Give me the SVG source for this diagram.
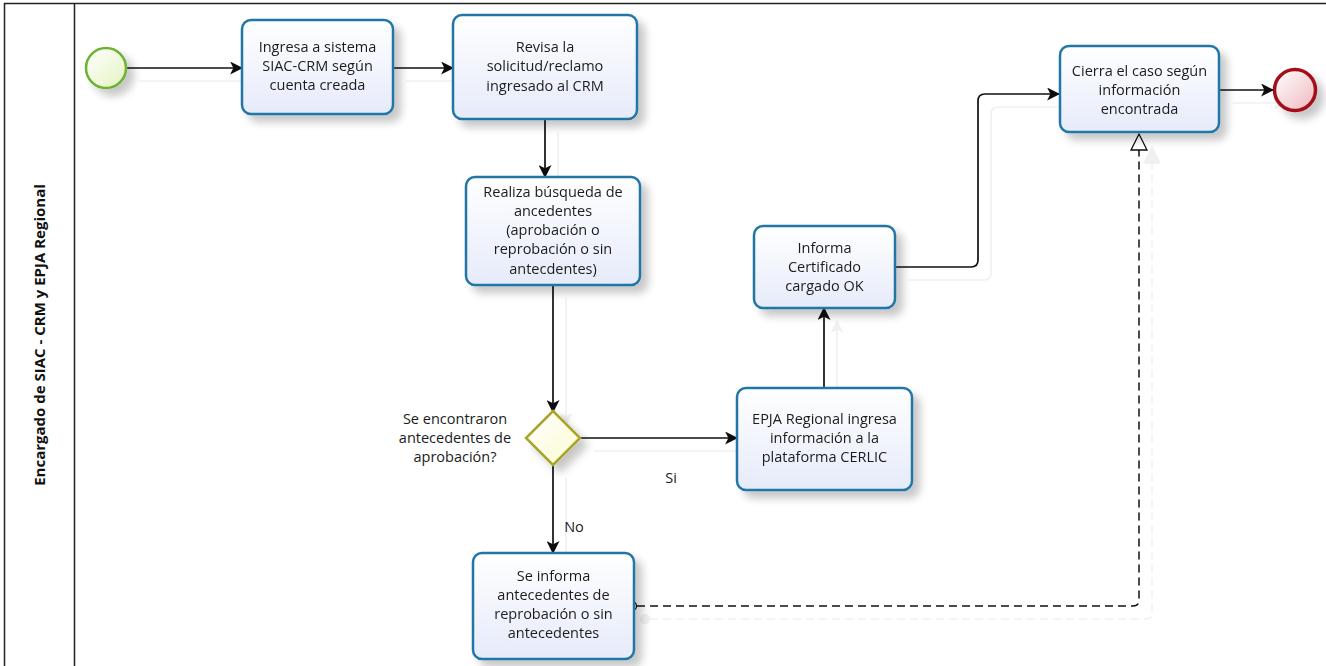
<svg xmlns="http://www.w3.org/2000/svg" width="1326" height="666" viewBox="0 0 1326 666">
<style>
.task{fill:url(#gTask);stroke:#2476a6;stroke-width:2.5}
.lbl{font-family:"Open Sans","Noto Sans",sans-serif;font-size:14.5px;fill:#1c1c1c;text-anchor:middle}
.flow{fill:none;stroke:#111;stroke-width:1.7}
.assoc{fill:none;stroke:#111;stroke-width:1.5;stroke-dasharray:8 5}
</style>
<defs>
<linearGradient id="gTask" x1="0" y1="0" x2="0" y2="1"><stop offset="0" stop-color="#ffffff"/><stop offset="1" stop-color="#e6ebfa"/></linearGradient>
<linearGradient id="gStart" x1="0" y1="0" x2="1" y2="1"><stop offset="0" stop-color="#ffffff"/><stop offset="1" stop-color="#e4f3c0"/></linearGradient>
<linearGradient id="gEnd" x1="0" y1="0" x2="1" y2="1"><stop offset="0" stop-color="#ffffff"/><stop offset="1" stop-color="#efb8bd"/></linearGradient>
<linearGradient id="gGate" x1="0" y1="0" x2="1" y2="1"><stop offset="0" stop-color="#ffffff"/><stop offset="1" stop-color="#fbfbd0"/></linearGradient>
<filter id="sh" x="-20%" y="-20%" width="160%" height="160%">
<feGaussianBlur in="SourceAlpha" stdDeviation="4"/><feOffset dx="7" dy="7" result="b"/>
<feComponentTransfer><feFuncA type="linear" slope="0.22"/></feComponentTransfer>
<feMerge><feMergeNode/><feMergeNode in="SourceGraphic"/></feMerge>
</filter>
<filter id="csh" x="-10%" y="-10%" width="130%" height="130%">
<feOffset in="SourceAlpha" dx="13" dy="13"/>
<feComponentTransfer><feFuncA type="linear" slope="0.06"/></feComponentTransfer>
<feMerge><feMergeNode/><feMergeNode in="SourceGraphic"/></feMerge>
</filter>
<marker id="arr" viewBox="0 0 12 12" refX="11" refY="6" markerWidth="13" markerHeight="13" markerUnits="userSpaceOnUse" orient="auto">
<path d="M0,0 L12,6 L0,12 L3,6 Z" fill="#111"/>
</marker>
<marker id="open" viewBox="0 0 18 20" refX="17" refY="10" markerWidth="18" markerHeight="20" markerUnits="userSpaceOnUse" orient="auto">
<path d="M1,2 L17,10 L1,18 Z" fill="#fff" stroke="#111" stroke-width="1.3"/>
</marker>
</defs>
<rect x="0" y="0" width="1326" height="666" fill="#fff"/>
<g id="pool">
<rect x="4.5" y="3.5" width="1340" height="700" fill="none" stroke="#222" stroke-width="1.5"/>
<line x1="74.5" y1="3.5" x2="74.5" y2="700" stroke="#222" stroke-width="1.5"/>
<text transform="translate(45,335) rotate(-90)" style="font-family:'Open Sans','Noto Sans',sans-serif;font-size:15px;font-weight:bold;fill:#111;text-anchor:middle">Encargado de SIAC - CRM y EPJA Regional</text>
</g>
<g id="connectors">
<g filter="url(#csh)">
<line class="flow" x1="126" y1="68" x2="242" y2="68" marker-end="url(#arr)"/>
<line class="flow" x1="393" y1="68" x2="453" y2="68" marker-end="url(#arr)"/>
<line class="flow" x1="545" y1="119" x2="545" y2="177" marker-end="url(#arr)"/>
<line class="flow" x1="553" y1="285" x2="553" y2="412" marker-end="url(#arr)"/>
<line class="flow" x1="581" y1="438" x2="737" y2="438" marker-end="url(#arr)"/>
<line class="flow" x1="553" y1="465" x2="553" y2="553" marker-end="url(#arr)"/>
<line class="flow" x1="824" y1="388" x2="824" y2="308" marker-end="url(#arr)"/>
<path class="flow" d="M895,267 H971 Q978,267 978,260 V101 Q978,94 985,94 H1059" marker-end="url(#arr)"/>
<line class="flow" x1="1220" y1="90" x2="1273" y2="90" marker-end="url(#arr)"/>
<path class="assoc" d="M637,606 H1133 Q1139,606 1139,600 V134" marker-end="url(#open)"/>
<circle cx="632" cy="606" r="4.5" fill="#fff" stroke="#111" stroke-width="1.3"/>
</g>
<text class="lbl" x="671" y="483">Si</text>
<text class="lbl" x="574" y="532">No</text>
</g>
<g id="start" filter="url(#sh)"><circle cx="106" cy="68" r="20" fill="url(#gStart)" stroke="#6db230" stroke-width="2.5"/></g>
<g id="task1" filter="url(#sh)"><rect class="task" x="242" y="20" width="151" height="94" rx="9"/>
<text class="lbl" x="317.5" y="52">Ingresa a sistema</text><text class="lbl" x="317.5" y="71">SIAC-CRM según</text><text class="lbl" x="317.5" y="90">cuenta creada</text></g>
<g id="task2" filter="url(#sh)"><rect class="task" x="453" y="15" width="184" height="104" rx="9"/>
<text class="lbl" x="545" y="52">Revisa la</text><text class="lbl" x="545" y="71">solicitud/reclamo</text><text class="lbl" x="545" y="91">ingresado al CRM</text></g>
<g id="task3" filter="url(#sh)"><rect class="task" x="466" y="177" width="174" height="108" rx="9"/>
<text class="lbl" x="553" y="197">Realiza búsqueda de</text><text class="lbl" x="553" y="216">ancedentes</text><text class="lbl" x="553" y="235">(aprobación o</text><text class="lbl" x="553" y="254">reprobación o sin</text><text class="lbl" x="553" y="274">antecdentes)</text></g>
<g id="gateway" filter="url(#sh)"><path d="M553,411 L580,438 L553,465 L526,438 Z" fill="url(#gGate)" stroke="#a8a52a" stroke-width="2.5"/></g>
<g id="gatewayLabel"><text class="lbl" x="455" y="424">Se encontraron</text><text class="lbl" x="455" y="443">antecedentes de</text><text class="lbl" x="455" y="462">aprobación?</text></g>
<g id="task4" filter="url(#sh)"><rect class="task" x="754" y="226" width="141" height="82" rx="9"/>
<text class="lbl" x="824.5" y="253">Informa</text><text class="lbl" x="824.5" y="272">Certificado</text><text class="lbl" x="824.5" y="291">cargado OK</text></g>
<g id="task5" filter="url(#sh)"><rect class="task" x="737" y="388" width="175" height="102" rx="9"/>
<text class="lbl" x="824.5" y="424">EPJA Regional ingresa</text><text class="lbl" x="824.5" y="443">información a la</text><text class="lbl" x="824.5" y="462">plataforma CERLIC</text></g>
<g id="task6" filter="url(#sh)"><rect class="task" x="473" y="553" width="161" height="106" rx="9"/>
<text class="lbl" x="553.5" y="581">Se informa</text><text class="lbl" x="553.5" y="600">antecedentes de</text><text class="lbl" x="553.5" y="619">reprobación o sin</text><text class="lbl" x="553.5" y="638">antecedentes</text></g>
<g id="task7" filter="url(#sh)"><rect class="task" x="1060" y="46" width="159" height="86" rx="9"/>
<text class="lbl" x="1139.5" y="76">Cierra el caso según</text><text class="lbl" x="1139.5" y="95">información</text><text class="lbl" x="1139.5" y="114">encontrada</text></g>
<g id="end" filter="url(#sh)"><circle cx="1295" cy="90" r="20.5" fill="url(#gEnd)" stroke="#a3101a" stroke-width="3.5"/></g>
</svg>
